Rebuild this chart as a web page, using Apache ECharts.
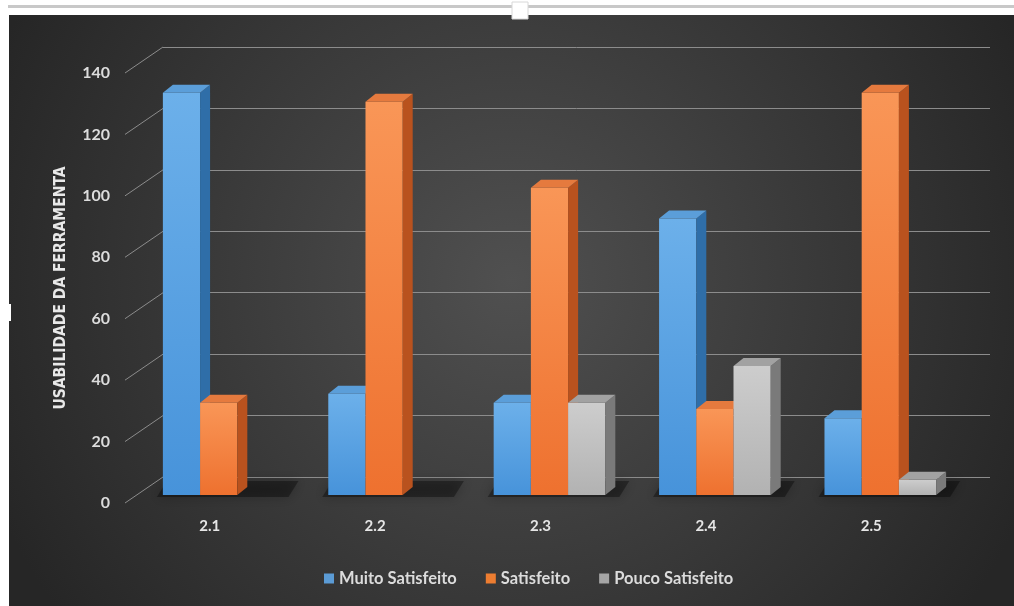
<!DOCTYPE html>
<html>
<head>
<meta charset="utf-8">
<script src="https://cdn.jsdelivr.net/npm/echarts@6/dist/echarts.min.js"></script>
<style>
  html, body { margin: 0; padding: 0; background: #fff; }
  #chart { width: 1014px; height: 606px; }
</style>
</head>
<body>
<div id="chart"></div>
<script>
// dados
var categories = ['2.1', '2.2', '2.3', '2.4', '2.5'];
var muitoSatisfeito = [131, 33, 30, 90, 25];
var satisfeito = [30, 128, 100, 28, 131];
var poucoSatisfeito = [0, 0, 30, 42, 5];
var yTicks = [0, 20, 40, 60, 80, 100, 120, 140];
var seriesNames = ['Muito Satisfeito', 'Satisfeito', 'Pouco Satisfeito'];

// cores de cada série: frente (topo/base do degradê), lado, tampa
var palettes = [
  { light: '#6cb0ea', base: '#4793da', side: '#2f6ea8', top: '#5b9ed9' },
  { light: '#f99657', base: '#ee712f', side: '#b9521e', top: '#e57a3e' },
  { light: '#cdcdcd', base: '#b2b2b2', side: '#7a7a7a', top: '#a2a2a2' }
];

var DX = 10, DY = 8;   // profundidade das barras
var FONT = 'Lato, "Open Sans", sans-serif';

function barRenderer(k) {
  var pal = palettes[k];
  return function (params, api) {
    var val = api.value(1);
    if (!val) return null;
    var base = api.coord([api.value(0), 0]);
    var top = api.coord([api.value(0), val]);
    var w = api.size([1, 0])[0] * 0.225;
    var x0 = base[0] - 1.5 * w + k * w;
    var x1 = x0 + w;
    var yb = base[1], yt = top[1];
    return {
      type: 'group',
      children: [
        {
          type: 'rect',
          shape: { x: x0, y: yt, width: w, height: yb - yt },
          style: {
            fill: {
              type: 'linear', x: 0, y: 0, x2: 0, y2: 1,
              colorStops: [{ offset: 0, color: pal.light }, { offset: 1, color: pal.base }]
            }
          }
        },
        {
          type: 'polygon',
          shape: { points: [[x1, yt], [x1 + DX, yt - DY], [x1 + DX, yb - DY], [x1, yb]] },
          style: { fill: pal.side }
        },
        {
          type: 'polygon',
          shape: { points: [[x0, yt], [x1, yt], [x1 + DX, yt - DY], [x0 + DX, yt - DY]] },
          style: { fill: pal.top }
        }
      ]
    };
  };
}

function shadowRenderer(params, api) {
  var base = api.coord([api.value(0), 0]);
  var w = api.size([1, 0])[0] * 0.225;
  var xl = base[0] - 1.5 * w;
  var xr = base[0] + 1.5 * w;
  var y = base[1];
  return {
    type: 'polygon',
    shape: { points: [[xl - 6, y + 2], [xr + 14, y + 2], [xr + 24, y - 14], [xl + 4, y - 14]] },
    style: { fill: 'rgba(0,0,0,0.35)', shadowBlur: 12, shadowColor: 'rgba(0,0,0,0.7)' }
  };
}

function tickRenderer(params, api) {
  var p = api.coord([0, api.value(1)]);
  var x = params.coordSys.x;
  return {
    type: 'line',
    shape: { x1: x - 2, y1: p[1], x2: x + 36, y2: p[1] - 26 },
    style: { stroke: '#8c8c8c', lineWidth: 1 }
  };
}

var chart = echarts.init(document.getElementById('chart'), null, { renderer: 'canvas' });

var valueAxisBase = { type: 'value', min: 0, max: 140, interval: 20 };

var option = {
  animation: false,
  backgroundColor: '#ffffff',
  graphic: [
    {
      type: 'rect', z: -100, silent: true,
      shape: { x: 9, y: 15, width: 1005, height: 591 },
      style: {
        fill: {
          type: 'radial', x: 0.5, y: 0.45, r: 0.95,
          colorStops: [{ offset: 0, color: '#505050' }, { offset: 1, color: '#262626' }]
        }
      }
    },
    { type: 'rect', z: 100, silent: true, shape: { x: 8, y: 5, width: 1006, height: 3 }, style: { fill: '#c8c8c8' } },
    { type: 'rect', z: 101, silent: true, shape: { x: 512, y: 2, width: 16, height: 17 }, style: { fill: '#ffffff', stroke: '#d8d8d8' } },
    { type: 'rect', z: 101, silent: true, shape: { x: 0, y: 304, width: 11, height: 17 }, style: { fill: '#ffffff' } }
  ],
  legend: {
    data: seriesNames,
    bottom: 14,
    left: 319,
    icon: 'rect',
    itemWidth: 10,
    itemHeight: 10,
    itemGap: 29,
    textStyle: { color: '#dcdcdc', fontSize: 16.5, fontWeight: 'bold', fontFamily: FONT }
  },
  grid: [
    // parede do fundo (linhas de grade)
    { left: 163, right: 24, top: 47, bottom: 129 },
    // plano dos rótulos
    { left: 127, right: 60, top: 73, bottom: 103 },
    // plano das barras
    { left: 136, right: 51, top: 65, bottom: 111 }
  ],
  xAxis: [
    { gridIndex: 0, type: 'category', data: categories, show: false },
    {
      gridIndex: 1, type: 'category', data: categories,
      axisLine: { show: false }, axisTick: { show: false },
      axisLabel: { color: '#e6e6e6', fontSize: 15, fontWeight: 'bold', fontFamily: FONT, margin: 16 }
    },
    { gridIndex: 2, type: 'category', data: categories, show: false }
  ],
  yAxis: [
    Object.assign({ gridIndex: 0, axisLabel: { show: false }, axisLine: { show: false },
      splitLine: { lineStyle: { color: '#8c8c8c', width: 1 } } }, valueAxisBase),
    Object.assign({
      gridIndex: 1,
      axisLine: { show: false }, axisTick: { show: false }, splitLine: { show: false },
      axisLabel: { color: '#dcdcdc', fontSize: 16, fontWeight: 'bold', fontFamily: FONT, margin: 17 },
      name: 'USABILIDADE DA FERRAMENTA',
      nameLocation: 'middle',
      nameGap: 58,
      nameRotate: 90,
      nameTextStyle: {
        color: '#e8e8e8', fontSize: 15.5, fontWeight: 'bold',
        fontFamily: '"Liberation Sans Narrow", "DejaVu Sans Condensed", sans-serif'
      }
    }, valueAxisBase),
    Object.assign({ gridIndex: 2, show: false, splitLine: { show: false } }, valueAxisBase)
  ],
  series: [
    {
      type: 'custom', name: 'ticks', xAxisIndex: 1, yAxisIndex: 1, silent: true,
      renderItem: tickRenderer,
      data: yTicks.map(function (v) { return [0, v]; })
    },
    {
      type: 'custom', name: 'sombra', xAxisIndex: 2, yAxisIndex: 2, silent: true, z: 1,
      renderItem: shadowRenderer,
      data: categories.map(function (c, i) { return [i, 0]; })
    },
    {
      type: 'custom', name: seriesNames[0], xAxisIndex: 2, yAxisIndex: 2, z: 3,
      itemStyle: { color: '#5b9bd5' },
      renderItem: barRenderer(0),
      data: muitoSatisfeito.map(function (v, i) { return [i, v]; })
    },
    {
      type: 'custom', name: seriesNames[1], xAxisIndex: 2, yAxisIndex: 2, z: 3,
      itemStyle: { color: '#ed7d31' },
      renderItem: barRenderer(1),
      data: satisfeito.map(function (v, i) { return [i, v]; })
    },
    {
      type: 'custom', name: seriesNames[2], xAxisIndex: 2, yAxisIndex: 2, z: 3,
      itemStyle: { color: '#a5a5a5' },
      renderItem: barRenderer(2),
      data: poucoSatisfeito.map(function (v, i) { return [i, v]; })
    }
  ]
};

chart.setOption(option);
</script>
</body>
</html>
